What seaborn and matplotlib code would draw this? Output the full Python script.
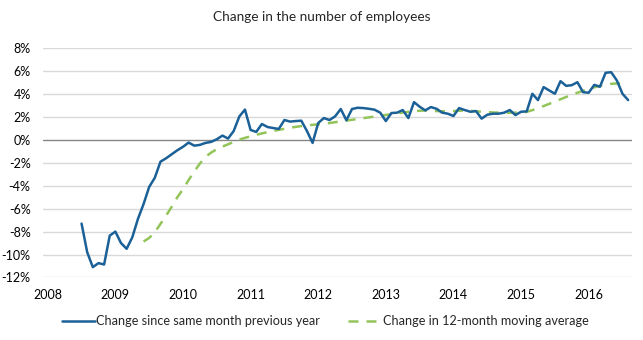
import numpy as np
import pandas as pd
import matplotlib
matplotlib.use("Agg")
import matplotlib.pyplot as plt
import seaborn as sns
from matplotlib.ticker import FuncFormatter

# Monthly data: blue series starts July 2008
blue_start = (2008, 7)
blue_values = [
    -7.3, -9.8, -11.1, -10.75, -10.87, -8.35,            # Jul-Dec 2008
    -8.0, -9.0, -9.5, -8.5, -6.9, -5.6, -4.1, -3.3, -1.9, -1.6, -1.25, -0.9,  # 2009
    -0.6, -0.23, -0.5, -0.43, -0.26, -0.17, 0.06, 0.38, 0.12, 0.78, 2.05, 2.65,  # 2010
    0.87, 0.70, 1.39, 1.13, 1.04, 0.96, 1.74, 1.60, 1.65, 1.68, 0.78, -0.26,  # 2011
    1.48, 1.91, 1.74, 2.06, 2.70, 1.72, 2.70, 2.81, 2.78, 2.72, 2.64, 2.38,  # 2012
    1.65, 2.35, 2.38, 2.61, 1.91, 3.30, 2.90, 2.58, 2.87, 2.72, 2.38, 2.29,  # 2013
    2.09, 2.78, 2.61, 2.46, 2.52, 1.86, 2.20, 2.29, 2.29, 2.38, 2.61, 2.17,  # 2014
    2.46, 2.49, 4.03, 3.48, 4.61, 4.32, 4.03, 5.13, 4.72, 4.78, 5.04, 4.17,  # 2015
    4.12, 4.81, 4.64, 5.86, 5.91, 5.19, 4.03, 3.48,                          # 2016
]
# Green series starts June 2009
green_start = (2009, 6)
green_values = [
    -8.87, -8.55, -8.06, -7.33, -6.61, -5.83, -5.0,       # Jun-Dec 2009
    -4.3, -3.5, -2.75, -2.06, -1.48, -1.1, -0.81, -0.58, -0.38, -0.17, 0.03, 0.18,  # 2010
    0.32, 0.45, 0.57, 0.68, 0.78, 0.88, 0.97, 1.06, 1.14, 1.21, 1.27, 1.32,  # 2011
    1.36, 1.42, 1.48, 1.55, 1.62, 1.69, 1.76, 1.83, 1.90, 1.97, 2.04, 2.11,  # 2012
    2.18, 2.25, 2.32, 2.39, 2.45, 2.50, 2.55, 2.57, 2.55, 2.52, 2.50, 2.50,  # 2013
    2.52, 2.55, 2.56, 2.54, 2.50, 2.46, 2.43, 2.40, 2.38, 2.37, 2.37, 2.38,  # 2014
    2.40, 2.45, 2.60, 2.78, 2.96, 3.15, 3.35, 3.55, 3.75, 3.95, 4.12, 4.28,  # 2015
    4.45, 4.60, 4.72, 4.82, 4.90, 4.93, 4.93,                                  # 2016
]

year_ticks = list(range(2008, 2017))
y_ticks = [-12, -10, -8, -6, -4, -2, 0, 2, 4, 6, 8]

label_blue = "Change since same month previous year"
label_green = "Change in 12-month moving average"
title = "Change in the number of employees"


def to_time(start, n):
    y, m = start
    base = y + (m - 1) / 12.0
    return [base + i / 12.0 for i in range(n)]


df_blue = pd.DataFrame({"t": to_time(blue_start, len(blue_values)), "v": blue_values})
df_green = pd.DataFrame({"t": to_time(green_start, len(green_values)), "v": green_values})

sns.set_theme(style="white")
plt.rcParams["font.family"] = ["Lato", "DejaVu Sans"]

fig = plt.figure(figsize=(6.43, 3.40), dpi=100)
ax = fig.add_axes([0.067, 0.184, 0.916, 0.674])

blue = "#1b6197"
green = "#93c45a"

sns.lineplot(data=df_blue, x="t", y="v", ax=ax, color=blue, linewidth=1.8,
             label=label_blue, zorder=3)
sns.lineplot(data=df_green, x="t", y="v", ax=ax, color=green, linewidth=1.8,
             label=label_green, zorder=2)
ax.lines[1].set_dashes([4, 3.2])

ax.set_xlim(2008 - 0.83 / 12, 2008 + 103.7 / 12)
ax.set_ylim(-12, 8)
ax.set_yticks(y_ticks)
ax.set_xticks(year_ticks)
ax.yaxis.set_major_formatter(FuncFormatter(lambda v, p: f"{int(round(v))}%"))
ax.set_xticklabels([str(y) for y in year_ticks])

for yv in y_ticks:
    if yv == 0:
        ax.axhline(yv, color="#868686", lw=1.0, zorder=1)
    else:
        ax.axhline(yv, color="#d9d9d9", lw=1.0, zorder=0)

for s in ax.spines.values():
    s.set_visible(False)
ax.tick_params(axis="both", length=0, labelsize=9, colors="#000000")
ax.tick_params(axis="y", pad=9)
ax.tick_params(axis="x", pad=8)
ax.set_xlabel("")
ax.set_ylabel("")

fig.text(0.5, 0.95, title, ha="center", va="center", fontsize=9.8)

leg = ax.legend(loc="center", bbox_to_anchor=(0.479, -0.19), ncol=2,
                frameon=False, fontsize=9.1, handlelength=2.6, handletextpad=0.15,
                columnspacing=2.2)
leg.get_lines()[1].set_dashes([4, 3.2])

fig.savefig("out.png", dpi=100)
